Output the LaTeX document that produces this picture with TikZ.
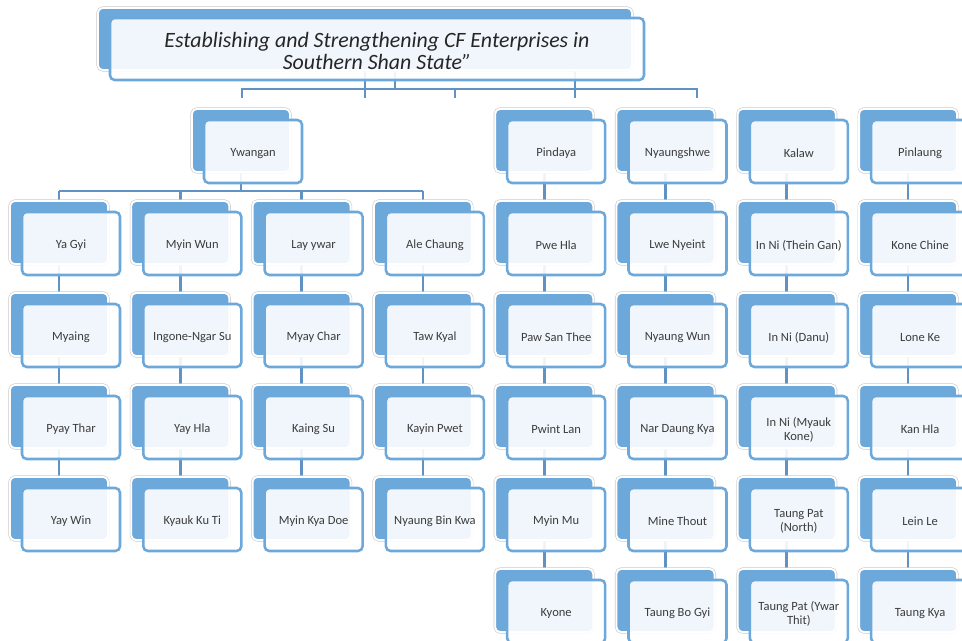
\documentclass[tikz,border=0pt]{standalone}
\usepackage{fontspec}
\setmainfont{Carlito}
\definecolor{boxblue}{RGB}{109,168,219}
\definecolor{linkblue}{RGB}{96,146,196}
\definecolor{txtgray}{RGB}{60,60,60}
\pgfdeclarelayer{paper}
\pgfdeclarelayer{links}
\pgfsetlayers{paper,links,main}
\newcommand\cfbox[4]{%
  \node[bk] (#1b) at (#2,#3) {};
  \node[fr] (#1) at (#2+12,#3+11) {};
  \node[lbl] (#1t) at ([yshift=-1.6pt]#1.center) {#4};}
\begin{document}
\begin{tikzpicture}[x=0.75pt,y=-0.75pt,
  bk/.style={rectangle, rounded corners=3.5pt, minimum width=73.5pt, minimum height=47.25pt,
    inner sep=0pt, fill=boxblue, draw=white, line width=1.4pt,
    preaction={draw=black!20, line width=2.3pt}},
  fr/.style={rectangle, rounded corners=3.5pt, minimum width=73.5pt, minimum height=47.25pt,
    inner sep=0pt, fill=white, fill opacity=0.9, draw=boxblue, draw opacity=1,
    line width=1.9pt},
  lbl/.style={inner sep=0pt, font=\fontsize{9.4}{10.6}\selectfont, text=txtgray, align=center},
  conn/.style={draw=linkblue, line width=2pt}]
\useasboundingbox (0,0) rectangle (962,641);
\begin{pgfonlayer}{paper}
  \fill[white] (0,0) rectangle (962,641);
\end{pgfonlayer}

% title
\node[bk, minimum width=400.5pt, minimum height=46.5pt] (titleb) at (365,39) {};
\node[fr, minimum width=400.5pt, minimum height=46.5pt] (title) at (377,49) {};
\node[lbl, font=\fontsize{16.4}{15.8}\selectfont\itshape, text=black!85] (titlet)
  at ([yshift=-1.5pt]title.center)
  {Establishing and Strengthening CF Enterprises in\\Southern Shan State”};

% level 1
\cfbox{yw}{241}{140.5}{Ywangan}
\cfbox{pd}{544.2}{140.5}{Pindaya}
\cfbox{ny}{665.5}{140.5}{Nyaungshwe}
\cfbox{kl}{786.8}{140.5}{Kalaw}
\cfbox{pl}{908.1}{140.5}{Pinlaung}

% column 0
\cfbox{aa}{59}{232.5}{Ya Gyi}
\cfbox{ab}{59}{324.5}{Myaing}
\cfbox{ac}{59}{416.5}{Pyay Thar}
\cfbox{ad}{59}{508.5}{Yay Win}
% column 1
\cfbox{ba}{180.3}{232.5}{Myin Wun}
\cfbox{bb}{180.3}{324.5}{Ingone-Ngar Su}
\cfbox{bc}{180.3}{416.5}{Yay Hla}
\cfbox{bd}{180.3}{508.5}{Kyauk Ku Ti}
% column 2
\cfbox{ca}{301.6}{232.5}{Lay ywar}
\cfbox{cb}{301.6}{324.5}{Myay Char}
\cfbox{cc}{301.6}{416.5}{Kaing Su}
\cfbox{cd}{301.6}{508.5}{Myin Kya Doe}
% column 3
\cfbox{da}{422.9}{232.5}{Ale Chaung}
\cfbox{db}{422.9}{324.5}{Taw Kyal}
\cfbox{dc}{422.9}{416.5}{Kayin Pwet}
\cfbox{dd}{422.9}{508.5}{Nyaung Bin Kwa}
% column 4
\cfbox{ea}{544.2}{232.5}{Pwe Hla}
\cfbox{eb}{544.2}{324.5}{Paw San Thee}
\cfbox{ec}{544.2}{416.5}{Pwint Lan}
\cfbox{ed}{544.2}{508.5}{Myin Mu}
\cfbox{ee}{544.2}{600.5}{Kyone}
% column 5
\cfbox{fa}{665.5}{232.5}{Lwe Nyeint}
\cfbox{fb}{665.5}{324.5}{Nyaung Wun}
\cfbox{fc}{665.5}{416.5}{Nar Daung Kya}
\cfbox{fd}{665.5}{508.5}{Mine Thout}
\cfbox{fe}{665.5}{600.5}{Taung Bo Gyi}
% column 6
\cfbox{ga}{786.8}{232.5}{In Ni (Thein Gan)}
\cfbox{gb}{786.8}{324.5}{In Ni (Danu)}
\cfbox{gc}{786.8}{416.5}{In Ni (Myauk\\Kone)}
\cfbox{gd}{786.8}{508.5}{Taung Pat\\(North)}
\cfbox{ge}{786.8}{600.5}{Taung Pat (Ywar\\Thit)}
% column 7
\cfbox{ha}{908.1}{232.5}{Kone Chine}
\cfbox{hb}{908.1}{324.5}{Lone Ke}
\cfbox{hc}{908.1}{416.5}{Kan Hla}
\cfbox{hd}{908.1}{508.5}{Lein Le}
\cfbox{he}{908.1}{600.5}{Taung Kya}

% connectors
\begin{pgfonlayer}{links}
  % title bus
  \coordinate (tbL) at (242,89);
  \coordinate (tbR) at (697,89);
  \coordinate (t1) at (242,98);
  \coordinate (t2) at (365,98);
  \coordinate (t3) at (455,98);
  \coordinate (t4) at (575,98);
  \coordinate (t5) at (697,98);
  \coordinate (u1) at (395,89);
  \coordinate (u2) at (575,89);
  \draw[conn] (t1) -- (tbL) -- (tbR) -- (t5);
  \draw[conn] (titleb.center) -- (t2);
  \draw[conn] (t3 |- tbL) -- (t3);
  \draw[conn] (titleb.south -| u1) -- (u1);
  \draw[conn] (titleb.south -| u2) -- (t4);
  % Ywangan bus
  \coordinate (ybus) at (241,191);
  \draw[conn] (ywb.center) -- (ybus);
  \draw[conn] (aab.center |- ybus) -- (dab.center |- ybus);
  \foreach \c in {aa,ba,ca,da}
    \draw[conn] (\c b.center |- ybus) -- (\c b.center);
  % columns
  \draw[conn] (aab.center) -- (abb.center) -- (acb.center) -- (adb.center);
  \draw[conn] (bab.center) -- (bbb.center) -- (bcb.center) -- (bdb.center);
  \draw[conn] (cab.center) -- (cbb.center) -- (ccb.center) -- (cdb.center);
  \draw[conn] (dab.center) -- (dbb.center) -- (dcb.center) -- (ddb.center);
  \draw[conn] (pdb.center) -- (eab.center) -- (ebb.center) -- (ecb.center) -- (edb.center) -- (eeb.center);
  \draw[conn] (nyb.center) -- (fab.center) -- (fbb.center) -- (fcb.center) -- (fdb.center) -- (feb.center);
  \draw[conn] (klb.center) -- (gab.center) -- (gbb.center) -- (gcb.center) -- (gdb.center) -- (geb.center);
  \draw[conn] (plb.center) -- (hab.center) -- (hbb.center) -- (hcb.center) -- (hdb.center) -- (heb.center);
\end{pgfonlayer}
\end{tikzpicture}
\end{document}
